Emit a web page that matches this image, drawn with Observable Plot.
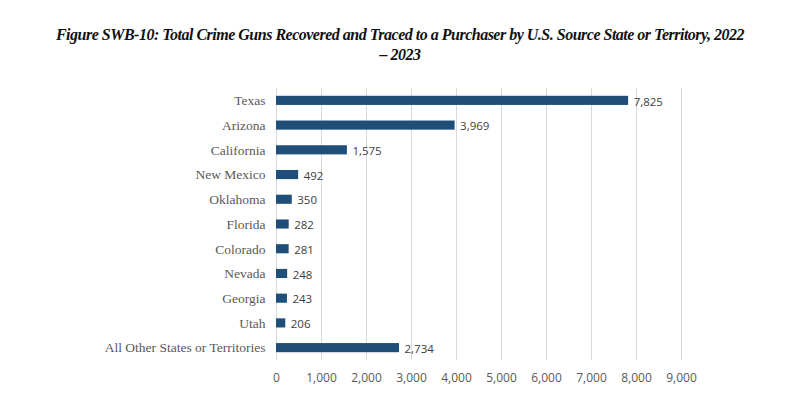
<!DOCTYPE html>
<html><head><meta charset="utf-8">
<script src="https://cdn.jsdelivr.net/npm/d3@7"></script>
<script src="https://cdn.jsdelivr.net/npm/@observablehq/plot@0.6"></script>
<style>
body{margin:0;background:#fff;width:800px;height:402px;overflow:hidden}
#title{height:70px;box-sizing:border-box;padding-top:25px;text-align:center;font-family:"Liberation Serif","Times New Roman",serif;font-weight:bold;font-style:italic;font-size:16px;line-height:20px;color:#111;letter-spacing:-0.5px;}
#chart svg{display:block}
</style></head>
<body>
<div id="title">Figure SWB-10: Total Crime Guns Recovered and Traced to a Purchaser by U.S. Source State or Territory, 2022<br>– 2023</div>
<div id="chart"></div>
<script>
const states = ["Texas","Arizona","California","New Mexico","Oklahoma","Florida","Colorado","Nevada","Georgia","Utah","All Other States or Territories"];
const guns = [7825,3969,1575,492,350,282,281,248,243,206,2734];
const xTicks = [0,1000,2000,3000,4000,5000,6000,7000,8000,9000];
const data = states.map((s,i)=>({state:s, value:guns[i]}));
const fmt = d3.format(",");
const chart = Plot.plot({
  width:800, height:332,
  marginLeft:276, marginRight:119, marginTop:18, marginBottom:42,
  style:{background:"#fff"},
  x:{domain:[0,9000], ticks:xTicks, tickFormat:fmt, label:null},
  y:{domain:states, label:null, padding:0, round:false},
  marks:[
    Plot.gridX(xTicks,{stroke:"#d9d9d9", strokeOpacity:1, strokeWidth:1}),
    Plot.axisX({ticks:xTicks, tickFormat:fmt, tickSize:0, tickPadding:13, fontSize:12, fill:"#595959", fontFamily:"Open Sans, sans-serif", label:null}),
    Plot.axisY({tickSize:0, tickPadding:11, fontSize:13.5, fill:"#595959", fontFamily:"Liberation Serif, serif", label:null}),
    Plot.barX(data,{x:"value", y:"state", fill:"#1f4e79", insetTop:7.8, insetBottom:7.8}),
    Plot.text(data,{x:"value", y:"state", text:d=>fmt(d.value), textAnchor:"start", dx:5, dy:1, fontSize:11.5, fill:"#404040", fontFamily:"Open Sans, sans-serif"})
  ]
});
document.getElementById("chart").appendChild(chart);
</script>
</body></html>
